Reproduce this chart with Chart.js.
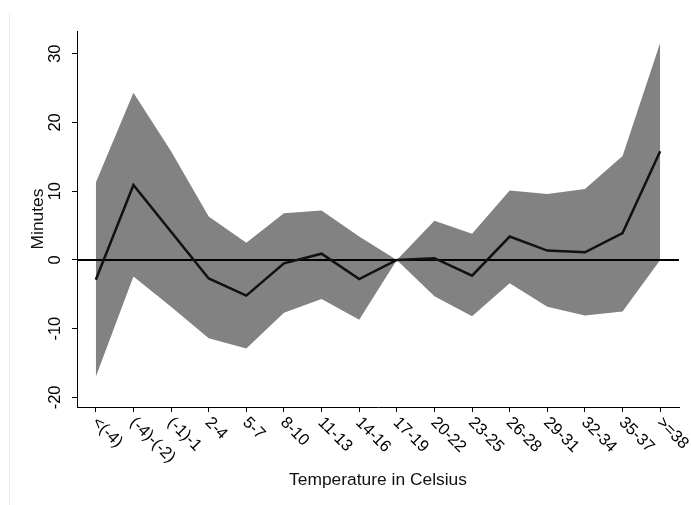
<!DOCTYPE html>
<html>
<head>
<meta charset="utf-8">
<script src="https://cdn.jsdelivr.net/npm/chart.js@4/dist/chart.umd.min.js"></script>
<style>
html,body{margin:0;padding:0;background:#fff;}
#wrap{position:relative;width:691px;height:505px;}
</style>
</head>
<body>
<div id="wrap"><canvas id="c" width="691" height="505"></canvas></div>
<script>
const categories = ["<(-4)", "(-4)-(-2)", "(-1)-1", "2-4", "5-7", "8-10", "11-13", "14-16", "17-19", "20-22", "23-25", "26-28", "29-31", "32-34", "35-37", ">=38"];
const estimate = [-2.9, 10.9, 4.1, -2.7, -5.2, -0.5, 0.9, -2.8, 0, 0.25, -2.3, 3.4, 1.35, 1.1, 3.9, 15.8];
const upperCI = [11.25, 24.3, 15.8, 6.3, 2.5, 6.8, 7.2, 3.4, 0, 5.7, 3.8, 10.1, 9.6, 10.3, 15.1, 31.6];
const lowerCI = [-17.0, -2.4, -6.8, -11.4, -12.9, -7.7, -5.7, -8.7, 0, -5.3, -8.2, -3.4, -6.8, -8.1, -7.5, 0];
const yTicks = [-20, -10, 0, 10, 20, 30];
const xTitle = "Temperature in Celsius";
const yTitle = "Minutes";

const FONT = '16.5px "Liberation Sans", Arial, sans-serif';
const TITLE_FONT = '17.4px "Liberation Sans", Arial, sans-serif';

const customDraw = {
  id: 'customDraw',
  beforeDraw(chart) {
    const ctx = chart.ctx;
    ctx.save();
    ctx.strokeStyle = '#ececec';
    ctx.lineWidth = 1;
    ctx.beginPath();
    ctx.moveTo(9.5, 13);
    ctx.lineTo(9.5, 505);
    ctx.stroke();
    ctx.restore();
  },
  beforeDatasetDraw(chart, args) {
    if (args.index !== 0) return;
    const ctx = chart.ctx;
    const y = chart.scales.y.getPixelForValue(0);
    const a = chart.chartArea;
    ctx.save();
    ctx.strokeStyle = '#000';
    ctx.lineWidth = 2;
    ctx.beginPath();
    ctx.moveTo(a.left, y);
    ctx.lineTo(a.right, y);
    ctx.stroke();
    ctx.restore();
  },
  afterDraw(chart) {
    const ctx = chart.ctx;
    const xs = chart.scales.x, ys = chart.scales.y;
    const a = chart.chartArea;
    ctx.save();
    ctx.fillStyle = '#000';
    ctx.font = FONT;
    categories.forEach((lab, i) => {
      const x = xs.getPixelForTick(i);
      ctx.save();
      ctx.translate(x - 1, xs.top + 13);
      ctx.rotate(Math.PI / 4);
      ctx.textAlign = 'left';
      ctx.textBaseline = 'middle';
      ctx.fillText(lab, 0, 0);
      ctx.restore();
    });
    yTicks.forEach(v => {
      const y = ys.getPixelForValue(v);
      ctx.save();
      ctx.translate(ys.right - 22, y);
      ctx.rotate(-Math.PI / 2);
      ctx.textAlign = 'center';
      ctx.textBaseline = 'middle';
      ctx.fillText(String(v), 0, 0);
      ctx.restore();
    });
    ctx.font = TITLE_FONT;
    ctx.fillStyle = '#111';
    ctx.textAlign = 'center';
    ctx.textBaseline = 'middle';
    ctx.fillText(xTitle, (a.left + a.right) / 2, 480);
    ctx.save();
    ctx.translate(38, (a.top + a.bottom) / 2);
    ctx.rotate(-Math.PI / 2);
    ctx.fillText(yTitle, 0, 0);
    ctx.restore();
    ctx.restore();
  }
};

new Chart(document.getElementById('c'), {
  type: 'line',
  data: {
    labels: categories,
    datasets: [
      {
        label: 'Estimate',
        data: estimate,
        borderColor: '#111',
        borderWidth: 2.5,
        pointRadius: 0,
        fill: false,
        tension: 0
      },
      {
        label: 'Upper',
        data: upperCI,
        borderWidth: 0,
        borderColor: 'rgba(0,0,0,0)',
        backgroundColor: '#828282',
        pointRadius: 0,
        fill: '+1',
        tension: 0
      },
      {
        label: 'Lower',
        data: lowerCI,
        borderWidth: 0,
        borderColor: 'rgba(0,0,0,0)',
        backgroundColor: '#828282',
        pointRadius: 0,
        fill: false,
        tension: 0
      }
    ]
  },
  options: {
    responsive: false,
    animation: false,
    devicePixelRatio: 1,
    layout: { padding: { left: 0, right: 12, top: 31, bottom: 0 } },
    plugins: { legend: { display: false }, tooltip: { enabled: false }, filler: { propagate: false } },
    scales: {
      x: {
        type: 'category',
        offset: true,
        grid: { display: true, drawOnChartArea: false, drawTicks: true, tickLength: 5, tickColor: '#000', offset: false },
        border: { display: true, color: '#000', width: 1 },
        ticks: { display: false },
        afterFit(scale) { scale.height = 98; }
      },
      y: {
        type: 'linear',
        min: -21.4,
        max: 33.3,
        grid: { display: true, drawOnChartArea: false, drawTicks: true, tickLength: 5, tickColor: '#000' },
        border: { display: true, color: '#000', width: 1 },
        ticks: { display: false },
        afterBuildTicks(scale) { scale.ticks = yTicks.map(v => ({ value: v })); },
        afterFit(scale) { scale.width = 77; }
      }
    }
  },
  plugins: [customDraw]
});
</script>
</body>
</html>
